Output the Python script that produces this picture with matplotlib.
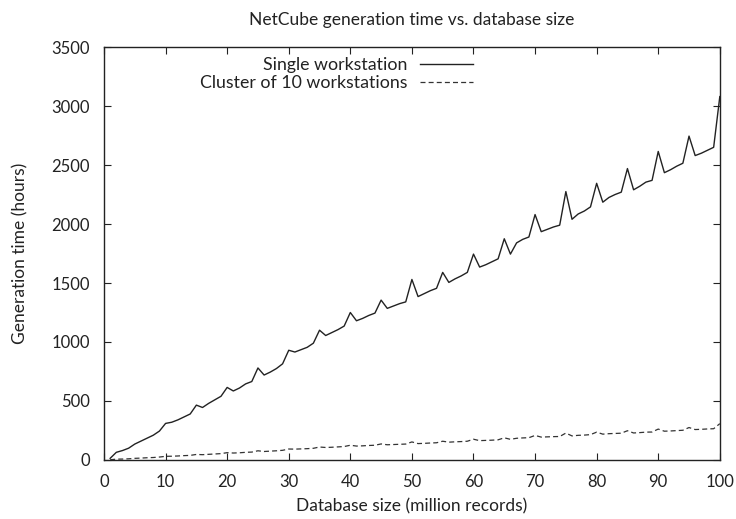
import numpy as np
import matplotlib
matplotlib.use('Agg')
import matplotlib.pyplot as plt

plt.rcParams['font.family'] = ['Lato', 'DejaVu Sans']

# Database size (million records)
db_size = list(range(1, 101))

# Generation time (hours), one workstation
single = [14, 65, 80, 100, 135, 160, 185, 210, 245, 310,
          320, 340, 365, 390, 465, 445, 480, 510, 540, 615,
          585, 610, 645, 665, 780, 720, 745, 775, 815, 930,
          915, 935, 955, 990, 1100, 1055, 1080, 1105, 1135, 1250,
          1180, 1200, 1225, 1245, 1355, 1285, 1305, 1325, 1340, 1530,
          1385, 1410, 1435, 1455, 1590, 1505, 1535, 1560, 1590, 1745,
          1635, 1655, 1680, 1705, 1875, 1745, 1840, 1870, 1890, 2080,
          1935, 1955, 1975, 1990, 2275, 2040, 2085, 2110, 2145, 2345,
          2185, 2225, 2250, 2270, 2470, 2290, 2320, 2355, 2370, 2615,
          2435, 2460, 2490, 2515, 2745, 2580, 2600, 2625, 2650, 3080]

# Generation time (hours), cluster of 10 workstations
cluster = [2, 7, 8, 10, 14, 16, 19, 21, 25, 31,
           32, 34, 37, 39, 47, 45, 48, 51, 54, 62,
           59, 61, 65, 67, 78, 72, 75, 78, 82, 93,
           92, 94, 96, 99, 110, 106, 108, 111, 114, 125,
           118, 120, 123, 125, 136, 129, 131, 133, 135, 153,
           139, 141, 144, 146, 159, 151, 154, 156, 159, 176,
           164, 166, 168, 171, 188, 175, 184, 187, 189, 208,
           194, 196, 198, 199, 228, 204, 209, 211, 215, 236,
           219, 223, 225, 227, 248, 229, 232, 236, 237, 262,
           244, 246, 249, 252, 275, 258, 260, 263, 265, 308]

xticks = np.arange(0, 101, 10)
yticks = np.arange(0, 3501, 500)

fig = plt.figure(figsize=(7.36, 5.19), dpi=100)
ax = fig.add_axes([0.1413, 0.1137, 0.8367, 0.7957])

ax.plot(db_size, single, color='#222222', lw=1.0, ls='-',
        label='Single workstation')
ax.plot(db_size, cluster, color='#333333', lw=0.9, ls=(0, (4, 2.5)),
        label='Cluster of 10 workstations')

ax.set_xlim(0, 100)
ax.set_ylim(0, 3500)
ax.set_xticks(xticks)
ax.set_yticks(yticks)
ax.tick_params(direction='in', length=5, width=0.8, top=True, right=True,
               labelsize=12, colors='#222222')
ax.tick_params(axis='x', pad=10)
ax.tick_params(axis='y', pad=10)
for sp in ax.spines.values():
    sp.set_linewidth(1.0)
    sp.set_color('#222222')

ax.set_title('NetCube generation time vs. database size', fontsize=12.5,
             color='#222222', pad=16)
ax.set_xlabel('Database size (million records)', fontsize=12.5,
              color='#222222', labelpad=6)
ax.set_ylabel('Generation time (hours)', fontsize=12.5, color='#222222',
              labelpad=17)

ax.legend(loc='upper right', bbox_to_anchor=(0.6, 0.975), frameon=False,
          markerfirst=False, fontsize=12.8, handlelength=3.0,
          handletextpad=0.7, borderpad=0, borderaxespad=0,
          labelspacing=0.1, labelcolor='#222222')

fig.savefig('out.png', dpi=100)
